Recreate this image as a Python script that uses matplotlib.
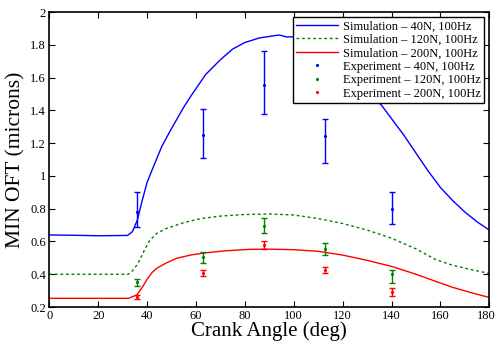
import matplotlib
matplotlib.use("Agg")
import matplotlib.pyplot as plt
import matplotlib.transforms as mtransforms
from matplotlib.ticker import FuncFormatter
from matplotlib.lines import Line2D

plt.rcParams['font.family'] = ['Liberation Serif', 'DejaVu Serif']

# Simulation curves
sim40_x = [0, 10, 20, 32, 34, 36, 38, 40, 42, 46, 50, 55, 58, 64, 70, 75, 80, 86, 90, 94, 97,
           100, 105, 110, 115, 120, 125, 130, 136, 140, 145, 150, 155, 160, 165, 170, 175, 180]
sim40_y = [0.64, 0.638, 0.635, 0.637, 0.66, 0.73, 0.85, 0.96, 1.035, 1.18, 1.29, 1.42, 1.49, 1.62,
           1.71, 1.775, 1.815, 1.843, 1.852, 1.861, 1.849, 1.85, 1.84, 1.80, 1.75, 1.68, 1.60,
           1.52, 1.43, 1.35, 1.25, 1.14, 1.03, 0.93, 0.85, 0.78, 0.72, 0.67]

sim120_x = [0, 20, 32.3, 34, 36, 37, 39, 41, 44, 48, 55, 62, 70, 80, 90, 100, 110, 120, 130,
            140, 150, 158, 165, 172, 180]
sim120_y = [0.40, 0.40, 0.40, 0.42, 0.46, 0.487, 0.55, 0.605, 0.65, 0.68, 0.715, 0.74, 0.755,
            0.765, 0.768, 0.762, 0.74, 0.71, 0.67, 0.62, 0.555, 0.49, 0.455, 0.43, 0.405]

sim200_x = [0, 20, 32.3, 35.8, 38, 40, 42, 44, 48, 52, 58, 64, 72, 82, 90, 100, 110, 120, 130,
            140, 150, 158, 165, 172, 180]
sim200_y = [0.253, 0.253, 0.253, 0.273, 0.32, 0.368, 0.41, 0.437, 0.47, 0.497, 0.518, 0.531,
            0.543, 0.552, 0.553, 0.55, 0.54, 0.517, 0.485, 0.448, 0.40, 0.357, 0.32, 0.29, 0.258]

# Experiments
exp_x = [36, 63, 88, 112.8, 140.4]
exp40_y = [0.78, 1.25, 1.553, 1.243, 0.798]
exp40_lo = [0.69, 1.109, 1.376, 1.08, 0.705]
exp40_hi = [0.904, 1.41, 1.764, 1.349, 0.90]

exp120_y = [0.351, 0.503, 0.696, 0.554, 0.40]
exp120_lo = [0.328, 0.47, 0.65, 0.517, 0.345]
exp120_hi = [0.373, 0.537, 0.741, 0.592, 0.426]

exp200_y = [0.261, 0.407, 0.58, 0.428, 0.29]
exp200_lo = [0.247, 0.389, 0.556, 0.409, 0.269]
exp200_hi = [0.273, 0.426, 0.601, 0.446, 0.314]

labels = ['Simulation \u2013 40N, 100Hz', 'Simulation \u2013 120N, 100Hz',
          'Simulation \u2013 200N, 100Hz', 'Experiment \u2013 40N, 100Hz',
          'Experiment \u2013 120N, 100Hz', 'Experiment \u2013 200N, 100Hz']

blue = '#0000ff'
green = '#008000'
red = '#ff0000'

fig = plt.figure(figsize=(4.97, 3.41), dpi=100)
ax = fig.add_axes([0.0992, 0.0997, 0.8853, 0.8645])

h1, = ax.plot(sim40_x, sim40_y, color=blue, lw=1.0)
h2, = ax.plot(sim120_x, sim120_y, color=green, lw=1.0, ls=(0, (2, 2)))
h3, = ax.plot(sim200_x, sim200_y, color=red, lw=1.0)

handles = [h1, h2, h3]
for ys, lo, hi, c in [(exp40_y, exp40_lo, exp40_hi, blue),
                      (exp120_y, exp120_lo, exp120_hi, green),
                      (exp200_y, exp200_lo, exp200_hi, red)]:
    err = [[y - l for y, l in zip(ys, lo)], [h - y for y, h in zip(ys, hi)]]
    ax.errorbar(exp_x, ys, yerr=err, fmt='.', ms=2.5, color=c, ecolor=c, elinewidth=1.0,
                capsize=2, capthick=1.0)
    handles.append(Line2D([], [], ls='none', marker='.', ms=2.5, color=c))

ax.set_xlim(0, 180)
ax.set_ylim(0.2, 2.0)
ax.set_xticks(range(0, 181, 20))
ax.set_yticks([0.2, 0.4, 0.6, 0.8, 1.0, 1.2, 1.4, 1.6, 1.8, 2.0])
ax.yaxis.set_major_formatter(FuncFormatter(lambda v, p: ('%g' % round(v, 2))))
ax.tick_params(direction='in', top=True, right=True, labelsize=9, length=4, width=0.8, pad=2.5)
for s in ax.spines.values():
    s.set_linewidth(1.2)

# keep the last x tick label inside the figure
last = ax.get_xticklabels()[-1]
last.set_transform(last.get_transform() +
                   mtransforms.ScaledTranslation(-3 / 100, 0, fig.dpi_scale_trans))

ax.set_xlabel('Crank Angle (deg)', fontsize=15, labelpad=-1)
ax.set_ylabel('MIN OFT (microns)', fontsize=15.5, labelpad=3)

leg = ax.legend(handles, labels, loc='upper right', fontsize=9, frameon=True, fancybox=False,
                edgecolor='black', framealpha=1, borderpad=0.25, labelspacing=0.12,
                handlelength=3.4, handletextpad=0.4, borderaxespad=0.4)
leg.get_frame().set_linewidth(1.0)

fig.savefig('out.png', dpi=100)
